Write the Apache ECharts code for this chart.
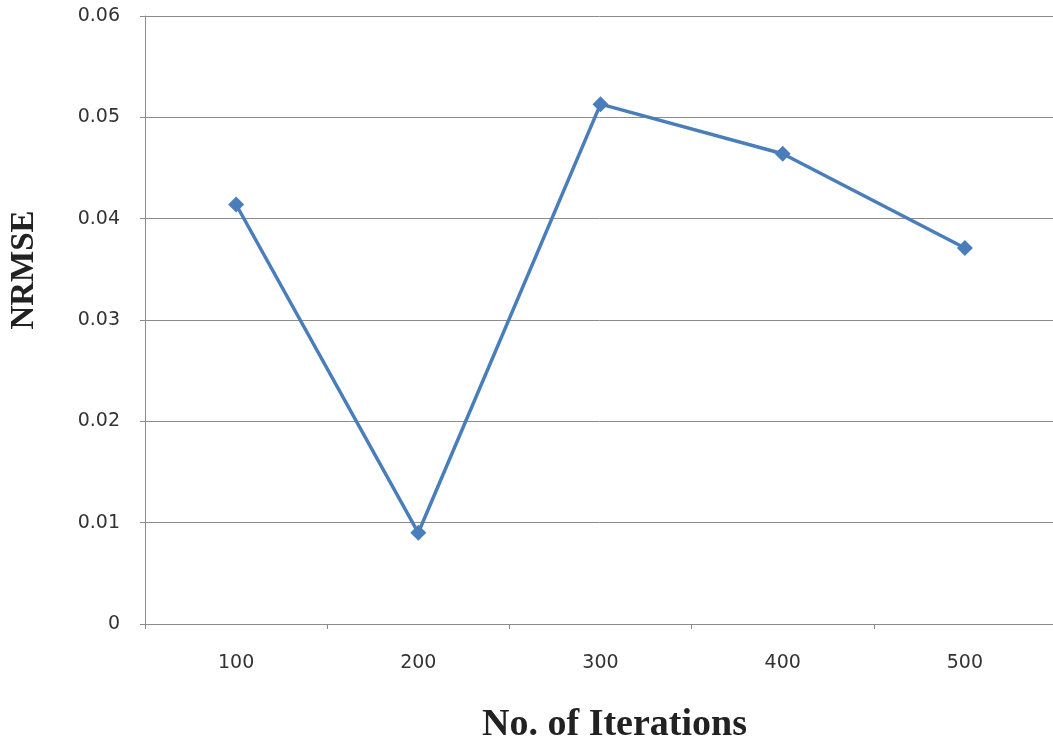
<!DOCTYPE html>
<html>
<head>
<meta charset="utf-8">
<script src="https://cdn.jsdelivr.net/npm/echarts@6/dist/echarts.min.js"></script>
<style>
  html, body { margin: 0; padding: 0; background: #fff; }
  #chart { width: 1053px; height: 746px; }
</style>
</head>
<body>
<div id="chart"></div>
<script>
// Iteration counts on the x axis
const iterations = ['100', '200', '300', '400', '500'];
// NRMSE for each iteration count
const nrmse = [0.0414, 0.0090, 0.0513, 0.0464, 0.0371];
// Value axis range and step
const yMin = 0;
const yMax = 0.06;
const yStep = 0.01;

const chart = echarts.init(document.getElementById('chart'));
chart.setOption({
  backgroundColor: '#ffffff',
  animation: false,
  grid: { left: 145, right: -3, top: 16, bottom: 122, outerBoundsMode: 'none', containLabel: false },
  xAxis: {
    type: 'category',
    data: iterations,
    boundaryGap: true,
    name: 'No. of Iterations',
    nameLocation: 'middle',
    nameGap: 82,
    nameTextStyle: {
      fontFamily: 'Liberation Serif',
      fontWeight: 'bold',
      fontSize: 38,
      color: '#222',
      padding: [0, 0, 0, 28]
    },
    axisLine: { lineStyle: { color: '#8c8c8c', width: 1 } },
    axisTick: { show: true, alignWithLabel: false, length: 5, lineStyle: { color: '#8c8c8c' } },
    axisLabel: { fontFamily: 'DejaVu Sans', fontSize: 19, color: '#333', margin: 30 },
    splitLine: { show: false }
  },
  yAxis: {
    type: 'value',
    min: yMin,
    max: yMax,
    interval: yStep,
    name: 'NRMSE',
    nameLocation: 'middle',
    nameGap: 104,
    nameTextStyle: {
      fontFamily: 'Liberation Serif',
      fontWeight: 'bold',
      fontSize: 33,
      color: '#222',
      padding: [0, 0, 0, 100]
    },
    axisLine: { show: true, lineStyle: { color: '#8c8c8c', width: 1 } },
    axisTick: { show: true, length: 5, lineStyle: { color: '#8c8c8c' } },
    axisLabel: {
      fontFamily: 'DejaVu Sans', fontSize: 19, color: '#333', margin: 25,
      formatter: v => (v === 0 ? '0' : v.toFixed(2))
    },
    splitLine: { show: true, lineStyle: { color: '#8c8c8c', width: 1 } }
  },
  series: [{
    type: 'line',
    data: nrmse,
    symbol: 'diamond',
    symbolSize: 16,
    lineStyle: { color: '#4a7ebb', width: 3.5 },
    itemStyle: { color: '#4a7ebb' }
  }]
});
</script>
</body>
</html>
